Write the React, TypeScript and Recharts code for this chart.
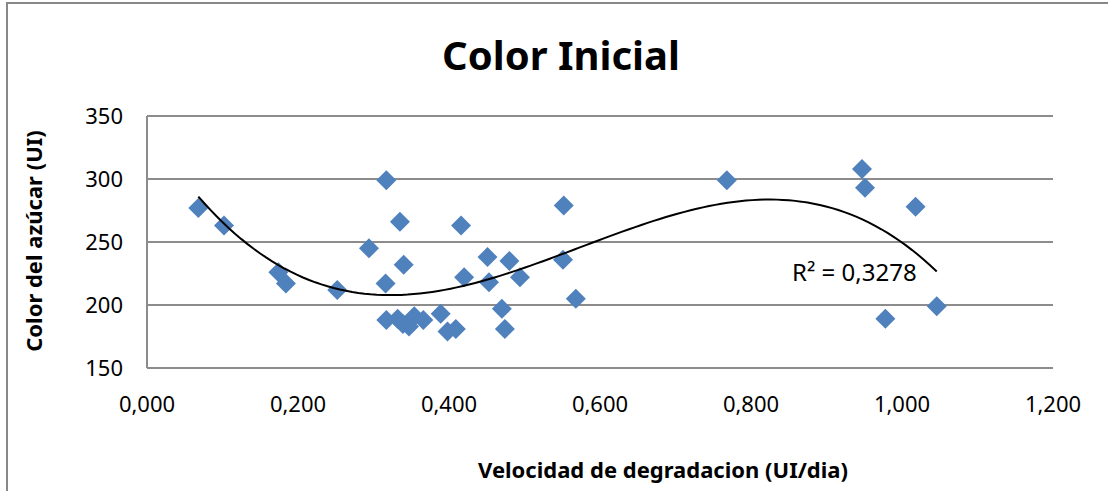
import React from 'react';
import { ScatterChart, Scatter, XAxis, YAxis, CartesianGrid } from 'recharts';

const chartTitle = 'Color Inicial';
const xTitle = 'Velocidad de degradacion (UI/dia)';
const yTitle = 'Color del azúcar (UI)';
const r2Label = 'R² = 0,3278';

const velocidad = [
  0.068, 0.102, 0.174, 0.184, 0.252, 0.317, 0.335, 0.294, 0.340, 0.316,
  0.317, 0.332, 0.339, 0.347, 0.354, 0.366, 0.389, 0.398, 0.409, 0.416,
  0.420, 0.451, 0.453, 0.470, 0.474, 0.480, 0.494, 0.552, 0.551, 0.568,
  0.768, 0.947, 0.951, 1.018, 0.978, 1.046,
];
const colorAzucar = [
  277, 263, 226, 217, 212, 299, 266, 245, 232, 217,
  188, 189, 185, 183, 191, 188, 193, 179, 181, 263,
  222, 238, 218, 197, 181, 235, 222, 279, 236, 205,
  299, 308, 293, 278, 189, 199,
];
const xTicks = [0, 0.2, 0.4, 0.6, 0.8, 1.0, 1.2];
const yTicks = [150, 200, 250, 300, 350];

const points = velocidad.map((x, i) => ({ x, y: colorAzucar[i] }));

// cubic polynomial least-squares trendline (as Excel's "polinómica, orden 3")
function cubicFit(xs: number[], ys: number[]): number[] {
  const n = 4;
  const A: number[][] = Array.from({ length: n }, () => new Array(n + 1).fill(0));
  for (let k = 0; k < xs.length; k++) {
    for (let r = 0; r < n; r++) {
      for (let c = 0; c < n; c++) A[r][c] += Math.pow(xs[k], r + c);
      A[r][n] += ys[k] * Math.pow(xs[k], r);
    }
  }
  for (let i = 0; i < n; i++) {
    let p = i;
    for (let r = i + 1; r < n; r++) if (Math.abs(A[r][i]) > Math.abs(A[p][i])) p = r;
    [A[i], A[p]] = [A[p], A[i]];
    for (let r = 0; r < n; r++) {
      if (r === i) continue;
      const f = A[r][i] / A[i][i];
      for (let c = i; c <= n; c++) A[r][c] -= f * A[i][c];
    }
  }
  return A.map((row, i) => row[n] / row[i]);
}
const coef = cubicFit(velocidad, colorAzucar);
const xMin = Math.min(...velocidad);
const xMax = Math.max(...velocidad);
const trend = Array.from({ length: 121 }, (_, i) => {
  const x = xMin + ((xMax - xMin) * i) / 120;
  return { x, y: coef[0] + coef[1] * x + coef[2] * x * x + coef[3] * x * x * x };
});

const Diamond = (props: any) => {
  const { cx, cy } = props;
  if (cx == null || cy == null) return <g />;
  const r = 10;
  return (
    <polygon
      points={`${cx},${cy - r} ${cx + r},${cy} ${cx},${cy + r} ${cx - r},${cy}`}
      fill="#4F81BD"
    />
  );
};

const fmt = (v: number) => v.toFixed(3).replace('.', ',');
const FONT = '"Noto Sans", "Open Sans", sans-serif';

export default function App() {
  return (
    <div style={{ position: 'absolute', left: 0, top: 0, width: 1108, height: 491, overflow: 'hidden', background: '#fff', fontFamily: FONT }}>
      <div style={{ position: 'absolute', left: 6, top: 2, width: 1200, height: 700, borderTop: '2px solid #888', borderLeft: '2px solid #888' }} />
      <ScatterChart width={1108} height={491} margin={{ top: 116, right: 55, bottom: 93, left: 87 }} style={{ position: 'absolute', left: 0, top: 0 }}>
        <CartesianGrid vertical={false} stroke="#8c8c8c" strokeWidth={2} />
        <XAxis
          type="number"
          dataKey="x"
          domain={[0, 1.2]}
          ticks={xTicks}
          interval={0}
          tickFormatter={fmt}
          tickLine={false}
          tickSize={0}
          tickMargin={28}
          height={30}
          axisLine={{ stroke: '#8c8c8c', strokeWidth: 2 }}
          tick={{ fill: '#000', fontSize: 22, fontFamily: FONT }}
        />
        <YAxis
          type="number"
          dataKey="y"
          domain={[150, 350]}
          ticks={yTicks}
          interval={0}
          tickLine={false}
          tickSize={0}
          tickMargin={24}
          width={60}
          axisLine={{ stroke: '#8c8c8c', strokeWidth: 2 }}
          tick={{ fill: '#000', fontSize: 22, fontFamily: FONT }}
        />
        <Scatter data={points} shape={Diamond} isAnimationActive={false} />
        <Scatter
          data={trend}
          line={{ stroke: '#000', strokeWidth: 2 }}
          lineType="joint"
          shape={() => <g />}
          isAnimationActive={false}
        />
      </ScatterChart>
      <svg width={1108} height={491} style={{ position: 'absolute', left: 0, top: 0, pointerEvents: 'none' }}>
        <text x={561} y={70} textAnchor="middle" fontFamily={FONT} fontWeight="bold" fontSize={40} fill="#000">{chartTitle}</text>
        <text x={663} y={478} textAnchor="middle" fontFamily={FONT} fontWeight="bold" fontSize={22} fill="#000">{xTitle}</text>
        <text x={34} y={241} transform="rotate(-90 34 241)" dy="0.35em" textAnchor="middle" fontFamily={FONT} fontWeight="bold" fontSize={22} fill="#000">{yTitle}</text>
        <text x={792} y={281} fontFamily={FONT} fontSize={24} fill="#000">{r2Label}</text>
      </svg>
    </div>
  );
}
